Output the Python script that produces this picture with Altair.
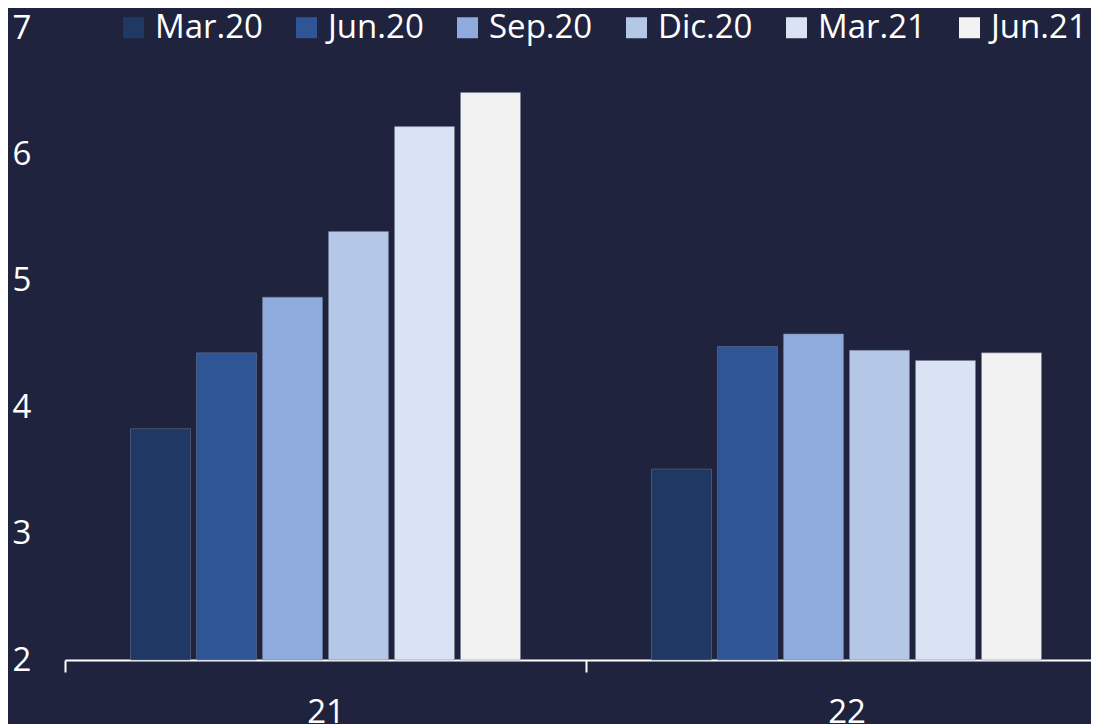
import altair as alt
import pandas as pd

groups = ["21", "22"]
series = ["Mar.20", "Jun.20", "Sep.20", "Dic.20", "Mar.21", "Jun.21"]
values_21 = [3.83, 4.43, 4.87, 5.39, 6.22, 6.49]
values_22 = [3.51, 4.48, 4.58, 4.45, 4.37, 4.43]
colors = ["#1f3864", "#2f5597", "#8faadc", "#b4c7e7", "#dae3f3", "#f2f2f2"]
y_ticks = [2, 3, 4, 5, 6, 7]

rows = []
for g, vals in zip(groups, [values_21, values_22]):
    for s, v in zip(series, vals):
        rows.append({"group": g, "series": s, "value": v})
df = pd.DataFrame(rows)

FONT = "Open Sans"
BG = "#1f233e"
FS = 33

chart = alt.Chart(df).mark_bar(stroke="#737c97", strokeWidth=0.5).encode(
    x=alt.X(
        "group:N",
        sort=groups,
        scale=alt.Scale(paddingInner=0, paddingOuter=0, range=[0, 1042]),
        axis=alt.Axis(
            title=None,
            labelAngle=0,
            tickBand="extent",
            domainColor="#ffffff",
            domainWidth=2,
            tickColor="#ffffff",
            tickWidth=2,
            tickSize=12,
            labelPadding=24,
            labelFontSize=FS,
            labelFont=FONT,
            labelColor="#ffffff",
            grid=False,
        ),
    ),
    xOffset=alt.XOffset(
        "series:N",
        sort=series,
        scale=alt.Scale(paddingInner=0.0909, paddingOuter=0.9925),
    ),
    y=alt.Y(
        "value:Q",
        scale=alt.Scale(domain=[2, 7], nice=False, zero=False),
        axis=alt.Axis(
            title=None,
            values=y_ticks,
            grid=False,
            domain=False,
            ticks=False,
            tickSize=0,
            labelAlign="left",
            labelBaseline="middle",
            labelPadding=53,
            labelFontSize=FS,
            labelFont=FONT,
            labelColor="#ffffff",
        ),
    ),
    y2=alt.datum(2),
    color=alt.Color(
        "series:N",
        sort=series,
        scale=alt.Scale(domain=series, range=colors),
        legend=alt.Legend(
            title=None,
            orient="none",
            legendX=52,
            legendY=-17,
            direction="horizontal",
            symbolType="square",
            symbolSize=441,
            symbolStrokeWidth=0,
            symbolOpacity=1,
            labelFontSize=FS,
            labelFont=FONT,
            labelColor="#ffffff",
            labelOffset=5,
            columnPadding=27,
            padding=0,
            labelLimit=300,
        ),
    ),
).properties(
    width=1026,
    height=632,
    padding={"left": 57, "top": 20, "right": 0, "bottom": 64},
    autosize="none",
    background=BG,
).configure_view(stroke=None)

chart.save("out.html", embed_options={"renderer": "svg", "actions": False})
